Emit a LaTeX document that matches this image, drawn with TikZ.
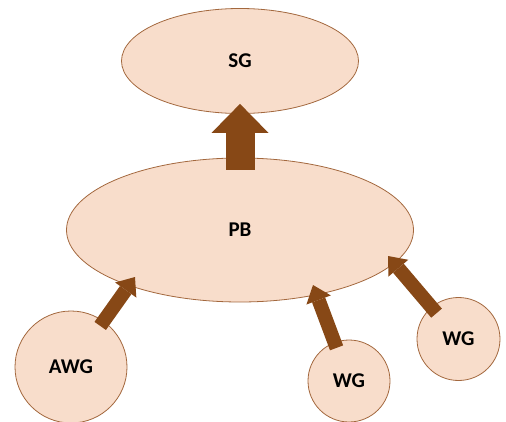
\documentclass[tikz,border=0pt]{standalone}
\usepackage{fontspec}
\setmainfont{Carlito}
\usetikzlibrary{arrows.meta,shapes.geometric}
\definecolor{peach}{RGB}{248,221,203}
\definecolor{rim}{RGB}{163,104,62}
\definecolor{bark}{RGB}{135,72,22}

\begin{document}
\begin{tikzpicture}[x=1pt,y=-1pt,
  blob/.style={ellipse,draw=rim,fill=peach,line width=0.8pt,inner sep=0pt,font=\fontsize{21}{25}\selectfont\bfseries},
  ball/.style={circle,draw=rim,fill=peach,line width=0.8pt,inner sep=0pt,font=\fontsize{21}{25}\selectfont\bfseries},
  feed/.style={draw=bark,line width=14pt,-{Triangle[width=26pt,length=16pt,line width=0pt]}},
  lift/.style={draw=bark,line width=29pt,-{Triangle[width=57pt,length=29pt,line width=0pt]}}]
\useasboundingbox (0,0) rectangle (506,422);
\node[blob,minimum width=237pt,minimum height=105pt] (SG) at (240,61) {SG};
\node[blob,minimum width=347pt,minimum height=144pt] (PB) at (240,230) {PB};
\node[ball,minimum size=112pt] (AWG) at (71,367) {AWG};
\node[ball,minimum size=82pt] (WGa) at (349,381) {WG};
\node[ball,minimum size=83pt] (WGb) at (458.5,339) {WG};
\coordinate (inA) at (135,277);
\coordinate (inB) at (313,285);
\coordinate (inC) at (388,256);
\draw[lift,shorten <=-12pt,shorten >=-10pt] (PB) -- (SG);
\draw[feed,shorten <=-6pt] (AWG) -- (inA);
\draw[feed,shorten <=-6pt] (WGa) -- (inB);
\draw[feed,shorten <=-8pt] (WGb) -- (inC);
\end{tikzpicture}
\end{document}
